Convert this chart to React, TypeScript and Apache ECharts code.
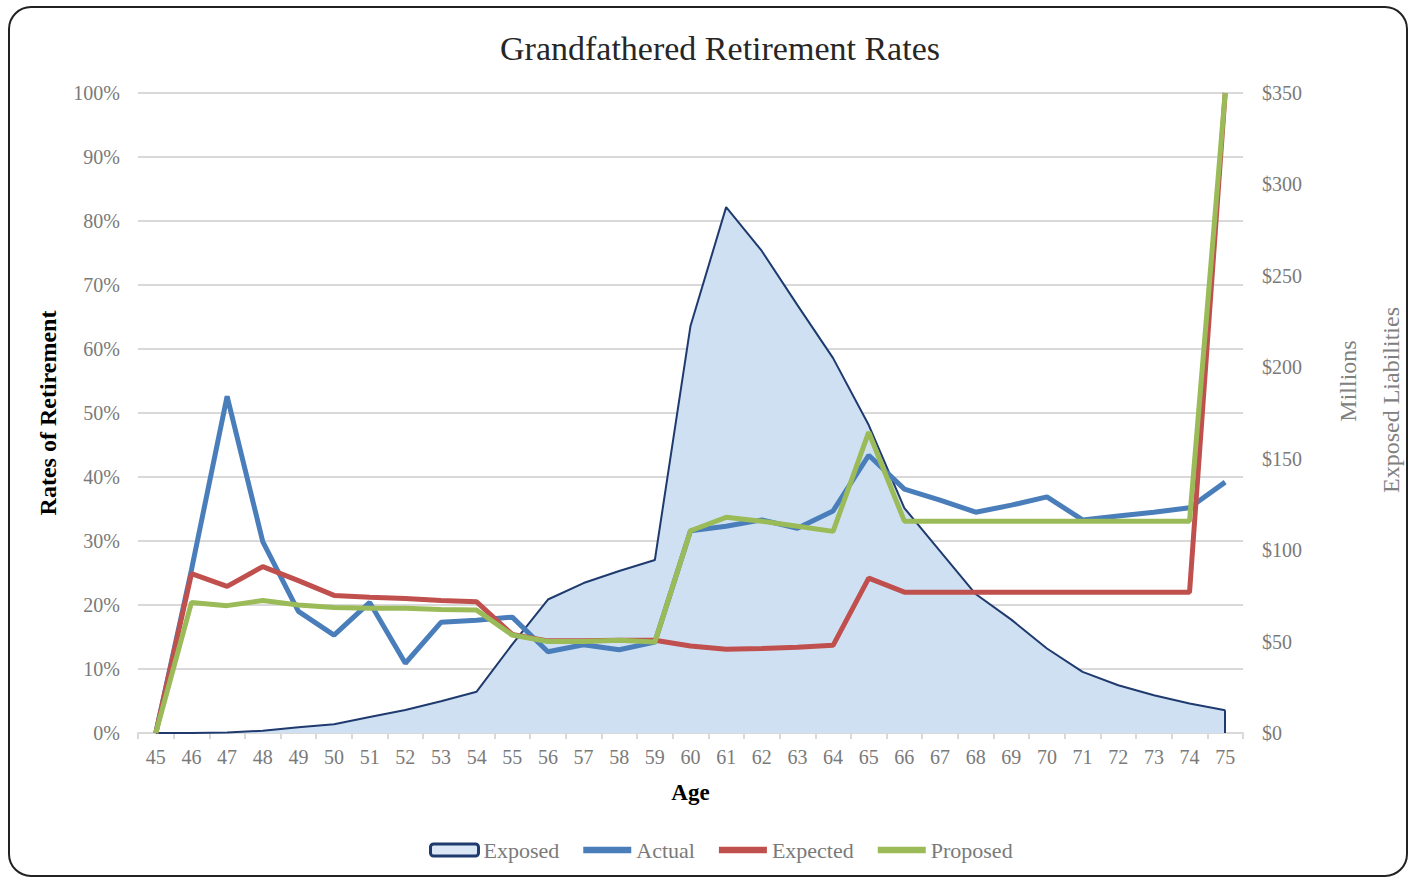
import React, { useEffect, useRef } from "react";
import * as echarts from "echarts";

const ages = ["45","46","47","48","49","50","51","52","53","54","55","56","57","58","59","60","61","62","63","64","65","66","67","68","69","70","71","72","73","74","75"];
const exposed = [0, 0, 0.3, 1.2, 3.1, 4.8, 8.8, 12.6, 17.4, 22.6, 48.5, 73, 82, 88.6, 94.6, 222.6, 287.6, 263.6, 234, 205, 168.4, 123, 99.5, 76, 62, 46.2, 33.4, 26.1, 20.6, 16.1, 12.4];
const actual = [0, 25.5, 52.6, 29.9, 19.0, 15.3, 20.4, 10.9, 17.3, 17.6, 18.1, 12.7, 13.8, 13.0, 14.2, 31.6, 32.3, 33.3, 32.0, 34.7, 43.4, 38.1, 36.4, 34.5, 35.6, 36.9, 33.3, 33.9, 34.5, 35.2, 39.2];
const expected = [0, 24.9, 22.9, 26.0, 23.8, 21.5, 21.2, 21.0, 20.7, 20.5, 15.4, 14.4, 14.4, 14.5, 14.5, 13.6, 13.1, 13.2, 13.4, 13.7, 24.2, 22, 22, 22, 22, 22, 22, 22, 22, 22, 100];
const proposed = [0, 20.4, 19.9, 20.7, 20.0, 19.6, 19.5, 19.5, 19.3, 19.2, 15.3, 14.3, 14.3, 14.5, 14.2, 31.6, 33.7, 33.1, 32.3, 31.5, 47.0, 33.1, 33.1, 33.1, 33.1, 33.1, 33.1, 33.1, 33.1, 33.1, 100];

const FONT = "'Liberation Serif', 'DejaVu Serif', serif";
const GRAY = "#7a7a7a";
const lineIcon = "path://M0,0h46v6h-46z";

export default function App() {
  const ref = useRef<HTMLDivElement>(null);
  useEffect(() => {
    document.body.style.margin = "0";
    const chart = echarts.init(ref.current!, null, { renderer: "svg" });
    const last = ages[ages.length - 1];
    chart.setOption({
      animation: false,
      textStyle: { fontFamily: FONT },
      title: {
        text: "Grandfathered Retirement Rates",
        left: 715,
        textAlign: "center",
        top: 26,
        textStyle: { fontFamily: FONT, fontSize: 34, fontWeight: "normal", color: "#262626" },
      },
      grid: { left: 138, right: 167, top: 93, bottom: 145 },
      legend: {
        left: 424,
        top: 834,
        itemWidth: 48,
        itemHeight: 12,
        itemGap: 24,
        textStyle: { fontFamily: FONT, fontSize: 22, color: GRAY },
        data: [
          { name: "Exposed", icon: "roundRect", itemStyle: { color: "#dbe7f5", borderColor: "#1f3a6e", borderWidth: 3 } },
          { name: "Actual", icon: lineIcon, itemStyle: { color: "#4a7ebb", borderWidth: 0 } },
          { name: "Expected", icon: lineIcon, itemStyle: { color: "#c0504d", borderWidth: 0 } },
          { name: "Proposed", icon: lineIcon, itemStyle: { color: "#9bbb59", borderWidth: 0 } },
        ],
      },
      xAxis: {
        type: "category",
        data: ages,
        boundaryGap: true,
        name: "Age",
        nameLocation: "middle",
        nameGap: 48,
        nameTextStyle: { fontFamily: FONT, fontSize: 23, fontWeight: "bold", color: "#000" },
        axisLine: { lineStyle: { color: "#d9d9d9", width: 2 } },
        axisTick: { show: true, length: 6, lineStyle: { color: "#d9d9d9", width: 2 } },
        axisLabel: { fontFamily: FONT, fontSize: 20, color: GRAY, margin: 14, interval: 0 },
      },
      yAxis: [
        {
          type: "value",
          min: 0,
          max: 100,
          interval: 10,
          name: "Rates of Retirement",
          nameLocation: "middle",
          nameGap: 78,
          nameTextStyle: { fontFamily: FONT, fontSize: 24, fontWeight: "bold", color: "#000" },
          axisLine: { show: false },
          axisTick: { show: false },
          axisLabel: { formatter: "{value}%", fontFamily: FONT, fontSize: 20, color: GRAY, margin: 18 },
          splitLine: { lineStyle: { color: "#d9d9d9", width: 2 } },
        },
        {
          type: "value",
          min: 0,
          max: 350,
          interval: 50,
          axisLine: { show: false },
          axisTick: { show: false },
          axisLabel: { formatter: "${value}", fontFamily: FONT, fontSize: 20, color: GRAY, margin: 19 },
          splitLine: { show: false },
        },
      ],
      graphic: [
        {
          type: "rect",
          shape: { x: 9, y: 7, width: 1398, height: 869, r: 22 },
          style: { fill: "none", stroke: "#222", lineWidth: 2 },
          silent: true,
        },
        {
          type: "text",
          x: 1348,
          y: 381,
          rotation: Math.PI / 2,
          style: { text: "Millions", font: `24px 'Liberation Serif', serif`, fill: "#808080", align: "center", verticalAlign: "middle" },
        },
        {
          type: "text",
          x: 1391,
          y: 400,
          rotation: Math.PI / 2,
          style: { text: "Exposed Liabilities", font: `24px 'Liberation Serif', serif`, fill: "#808080", align: "center", verticalAlign: "middle" },
        },
      ],
      series: [
        {
          name: "Exposed",
          type: "line",
          yAxisIndex: 1,
          data: exposed,
          symbol: "none",
          lineStyle: { color: "#1f3a6e", width: 2 },
          itemStyle: { color: "#1f3a6e" },
          areaStyle: { color: "#cfe0f3", opacity: 1 },
          markLine: {
            silent: true,
            symbol: "none",
            label: { show: false },
            lineStyle: { color: "#1f3a6e", width: 2, type: "solid" },
            data: [[{ coord: [last, exposed[exposed.length - 1]] }, { coord: [last, 0] }]],
          },
          z: 1,
        },
        {
          name: "Actual",
          type: "line",
          data: actual,
          symbol: "none",
          lineStyle: { color: "#4a7ebb", width: 5 },
          itemStyle: { color: "#4a7ebb" },
          z: 3,
        },
        {
          name: "Expected",
          type: "line",
          data: expected,
          symbol: "none",
          lineStyle: { color: "#c0504d", width: 5 },
          itemStyle: { color: "#c0504d" },
          z: 4,
        },
        {
          name: "Proposed",
          type: "line",
          data: proposed,
          symbol: "none",
          lineStyle: { color: "#9bbb59", width: 5 },
          itemStyle: { color: "#9bbb59" },
          z: 5,
        },
      ],
    });
    return () => chart.dispose();
  }, []);
  return <div ref={ref} style={{ width: 1410, height: 878 }} />;
}
